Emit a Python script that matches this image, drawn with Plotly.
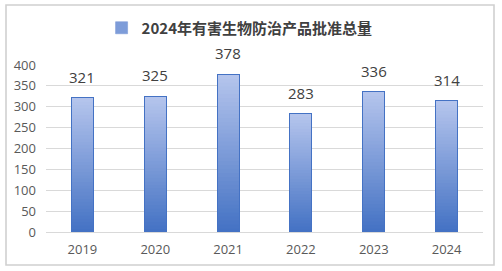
import plotly.graph_objects as go

years = ["2019", "2020", "2021", "2022", "2023", "2024"]
values = [321, 325, 378, 283, 336, 314]
series_name = "2024年有害生物防治产品批准总量"
y_ticks = [0, 50, 100, 150, 200, 250, 300, 350, 400]

W, H = 502, 271
ML, MR, MT, MB = 46, 19, 65, 39

bottom_rgb = (68, 114, 196)
top_rgb = (180, 196, 236)
N = 40

fig = go.Figure()
for k in range(N):
    t = k / (N - 1)
    c = tuple(round(b + (tp - b) * t) for b, tp in zip(bottom_rgb, top_rgb))
    col = "rgb(%d,%d,%d)" % c
    fig.add_trace(go.Bar(
        x=years, y=[v / N for v in values],
        marker=dict(color=col, line=dict(width=0.6, color=col)),
        name="<b>" + series_name + "</b>", showlegend=(k == N // 2), hoverinfo="skip",
        legendgroup="s",
    ))

# outline
fig.add_trace(go.Bar(
    x=years, y=values, xaxis="x2",
    marker=dict(color="rgba(0,0,0,0)", line=dict(width=1, color="#4472c4")),
    showlegend=False, name=series_name,
))

for i, v in enumerate(values):
    fig.add_annotation(x=i, y=v, text=str(v), showarrow=False,
                       yanchor="bottom", yshift=9,
                       font=dict(family="Open Sans, DejaVu Sans", size=15, color="#404040"))

pw = W - ML - MR
ph = H - MT - MB
def px_x(p):
    return (p - ML) / pw
def px_y(p):
    return (H - MB - p) / ph

fig.add_shape(type="rect", xref="paper", yref="paper",
              x0=px_x(6), x1=px_x(494), y0=px_y(265), y1=px_y(5),
              line=dict(color="#d0d0d0", width=1.6), layer="below")

xr = [-0.5, len(years) - 0.5]
fig.update_layout(
    width=W, height=H,
    margin=dict(l=ML, r=MR, t=MT, b=MB),
    paper_bgcolor="white", plot_bgcolor="white",
    barmode="stack", bargap=0.7,
    showlegend=True,
    legend=dict(orientation="h", x=0.443, xanchor="center", y=px_y(28), yanchor="middle",
                font=dict(family="Noto Sans CJK SC", size=15, color="#404040"),
                bgcolor="rgba(0,0,0,0)"),
    xaxis=dict(type="category", categoryorder="array", categoryarray=years, range=xr,
               showline=True, linecolor="#d9d9d9", linewidth=1, ticks="",
               ticklabelstandoff=5,
               tickfont=dict(family="Open Sans, DejaVu Sans", size=13, color="#595959"),
               showgrid=False),
    xaxis2=dict(type="category", categoryorder="array", categoryarray=years, range=xr,
                overlaying="x", visible=False),
    yaxis=dict(range=[0, 400], tickvals=y_ticks, showgrid=True, gridcolor="#d9d9d9",
               gridwidth=1, zeroline=False, showline=False, ticks="",
               ticklabelstandoff=9,
               tickfont=dict(family="Open Sans, DejaVu Sans", size=13, color="#595959")),
)

fig.write_html("out.html")
